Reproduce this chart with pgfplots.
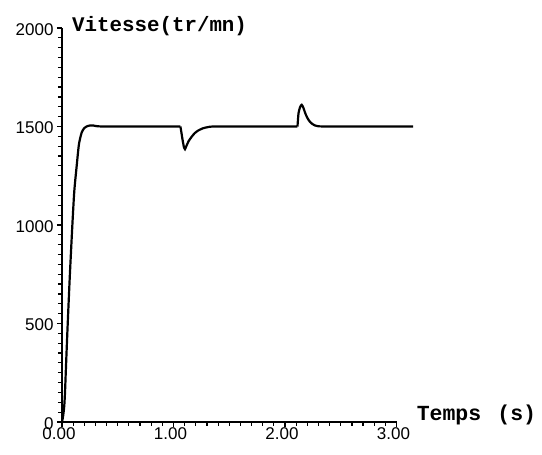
\documentclass[border=0pt]{standalone}
\usepackage{fontspec}
\usepackage{pgfplots}
\pgfplotsset{compat=1.18}
\newfontfamily\labfont{Liberation Mono}
\newfontfamily\tickfont{Liberation Sans}
\begin{document}
\begin{tikzpicture}
\useasboundingbox (-62pt,-33pt) rectangle (480pt,422pt);
\begin{axis}[
  anchor=south west, at={(0,0)},
  x=111.5pt, y=0.197pt,
  xmin=0, xmax=3, ymin=0, ymax=2000,
  axis x line=bottom, axis y line=left,
  axis line style={-, line width=1.6pt},
  clip=false,
  xtick={0,1,2,3}, ytick={0,500,1000,1500,2000},
  minor x tick num=9, minor y tick num=9,
  tick align=outside,
  major tick length=5pt, minor tick length=4pt,
  tick style={line width=1.2pt, black},
  /pgf/number format/assume math mode=true,
  /pgf/number format/1000 sep={},
  xticklabel style={yshift=3pt, xshift=-3pt, font=\tickfont\fontsize{17}{17}\selectfont, /pgf/number format/.cd, fixed, fixed zerofill, precision=2},
  yticklabel style={yshift=-1.5pt, font=\tickfont\fontsize{17}{17}\selectfont},
]
\addplot[black, line width=2.2pt, smooth, tension=0.4] coordinates {
(0,0) (0.01,30) (0.02,80) (0.027,150) (0.035,270) (0.05,482) (0.07,740)
(0.092,990) (0.11,1170) (0.13,1290) (0.152,1410) (0.177,1470) (0.20,1492)
(0.22,1500) (0.25,1505) (0.28,1505) (0.32,1501) (0.40,1500) (0.7,1500)
(1.0,1500) (1.062,1500)
};
\addplot[black, line width=2.2pt, smooth, tension=0.4] coordinates {
(1.062,1500) (1.068,1480) (1.082,1430) (1.095,1392) (1.103,1385) (1.115,1400)
(1.135,1425) (1.163,1448) (1.19,1466) (1.22,1479) (1.26,1490) (1.30,1496) (1.36,1500)
(1.6,1500) (2.0,1500) (2.112,1500)
};
\addplot[black, line width=2.2pt, smooth, tension=0.4] coordinates {
(2.112,1500) (2.117,1540) (2.122,1570) (2.135,1598) (2.15,1610) (2.165,1595)
(2.18,1570) (2.195,1550) (2.215,1530) (2.24,1515) (2.27,1505) (2.30,1501)
(2.4,1500) (2.8,1500) (3.15,1500)
};
\node[anchor=base west, inner sep=0pt, font=\labfont\bfseries\fontsize{20.8}{21}\selectfont] at (axis cs:0.09,1980) {Vitesse(tr/mn)};
\node[anchor=base west, inner sep=0pt, font=\labfont\bfseries\fontsize{21.5}{22}\selectfont] at (axis cs:3.18,10) {Temps\hspace{0.75em}(s)};
\end{axis}
\end{tikzpicture}
\end{document}
